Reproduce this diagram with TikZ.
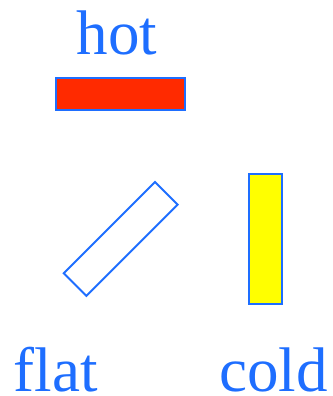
\documentclass[tikz,border=0pt]{standalone}
\usepackage{fontspec}
\setmainfont{Liberation Serif}
\usepackage{xcolor}
\usepackage{tikz}
\usetikzlibrary{positioning}
\definecolor{labelblue}{RGB}{30,110,255}
\definecolor{hotred}{RGB}{255,42,0}
\definecolor{coldyellow}{RGB}{255,255,0}
\tikzset{
    barblock/.style={rectangle, draw=labelblue, line width=2pt, inner sep=0pt, minimum width=129pt, minimum height=32pt},
    wordlabel/.style={text=labelblue, font=\fontsize{63}{70}\selectfont, inner sep=0pt, anchor=base}
}
\begin{document}
\begin{tikzpicture}[x=1pt, y=1pt]
    \useasboundingbox (0,0) rectangle (332,-396);
    \node (hotword) [wordlabel] at (117,-55) {hot};
    \node (hotbar) [barblock, fill=hotred] at (120.5,-94) {};
    \node (flatbar) [barblock, rotate=45] at (120.7,-239) {};
    \node (coldbar) [barblock, fill=coldyellow, minimum width=33pt, minimum height=130pt] at (265,-239) {};
    \node (flatword) [wordlabel] at (55.7,-391.5) {flat};
    \node (coldword) [wordlabel] at (273.5,-391.5) {cold};
\end{tikzpicture}
\end{document}
